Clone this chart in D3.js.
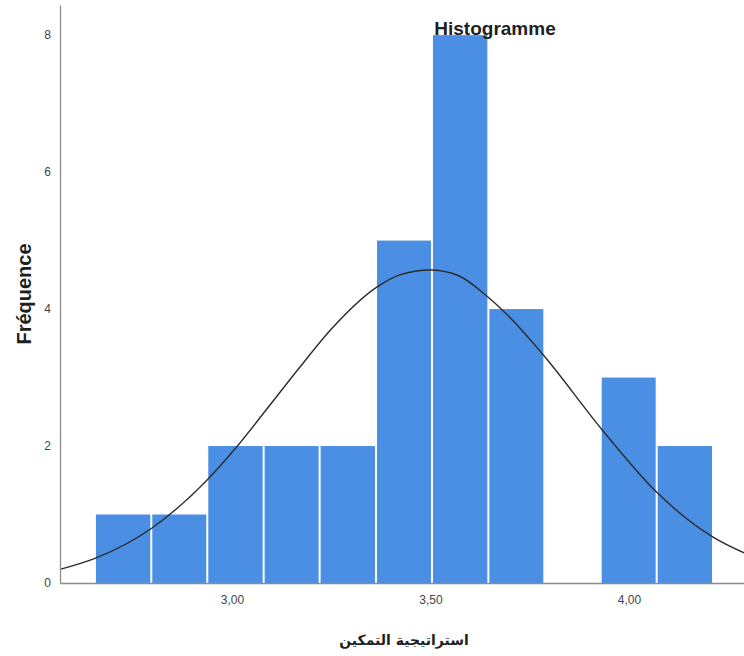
<!DOCTYPE html>
<html>
<head>
<meta charset="utf-8">
<script src="https://cdn.jsdelivr.net/npm/d3@7"></script>
<style>
  body { margin: 0; background: #fff; }
  text { font-family: "Liberation Sans", Arial, sans-serif; }
</style>
</head>
<body>
<div class="histo_Container"></div>
<script>
// bin edges + counts (11 bins)
const binEdges = [2.655, 2.797, 2.938, 3.080, 3.221, 3.363, 3.504, 3.646, 3.787, 3.929, 4.070, 4.212];
const counts = [1, 1, 2, 2, 2, 5, 8, 4, 0, 3, 2];

// fitted normal curve
const curveX = [2.567, 2.655, 2.798, 2.940, 3.008, 3.088, 3.171, 3.254, 3.365, 3.423, 3.499, 3.570, 3.642, 3.693, 3.783, 3.935, 4.071, 4.212, 4.290];
const curveY = [0.20, 0.36, 0.80, 1.52, 1.96, 2.54, 3.15, 3.73, 4.32, 4.50, 4.57, 4.49, 4.19, 3.92, 3.34, 2.22, 1.32, 0.67, 0.44];

const xTicks = [3.0, 3.5, 4.0];
const yTicks = [0, 2, 4, 6, 8];

const titleText = 'Histogramme';
const xLabel = 'استراتيجية التمكين';
const yLabel = 'Fréquence';

const W = 744, H = 656;
const margin = ({top: 5, bottom: 73, left: 60, right: 0});

const svg = d3.select('.histo_Container')
  .append('svg')
  .attr('width', W)
  .attr('height', H);

const x = d3.scaleLinear()
  .domain([2.567, 4.290])
  .range([margin.left, W - margin.right]);

const y = d3.scaleLinear()
  .domain([0, 8.44])
  .range([H - margin.bottom, margin.top]);

const bins = counts.map((c, i) => ({x0: binEdges[i], x1: binEdges[i + 1], n: c}));

// bars
svg.append('g')
  .selectAll('rect')
  .data(bins.filter(d => d.n > 0))
  .enter()
  .append('rect')
  .attr('x', d => x(d.x0) + 1)
  .attr('y', d => y(d.n))
  .attr('width', d => x(d.x1) - x(d.x0) - 2)
  .attr('height', d => y(0) - y(d.n))
  .attr('fill', '#4a8fe3');

// normal curve
const line = d3.line()
  .x(d => x(d[0]))
  .y(d => y(d[1]))
  .curve(d3.curveMonotoneX);

svg.append('path')
  .datum(curveX.map((v, i) => [v, curveY[i]]))
  .attr('fill', 'none')
  .attr('stroke', '#2b2b2b')
  .attr('stroke-width', 1.4)
  .attr('d', line);

// axes - no tick marks, gray lines
const xAxis = d3.axisBottom(x)
  .tickValues(xTicks)
  .tickSize(0)
  .tickPadding(12)
  .tickFormat(d => d3.format('.2f')(d).replace('.', ','));

const yAxis = d3.axisLeft(y)
  .tickValues(yTicks)
  .tickSize(0)
  .tickPadding(9);

const gx = svg.append('g')
  .attr('class', 'x-axis')
  .attr('transform', `translate(0, ${y(0)})`)
  .call(xAxis);

const gy = svg.append('g')
  .attr('class', 'y-axis')
  .attr('transform', `translate(${margin.left}, 0)`)
  .call(yAxis);

[gx, gy].forEach(g => {
  g.select('.domain').attr('stroke', '#8c8c8c').attr('stroke-width', 1.3);
  g.selectAll('text')
    .attr('fill', '#444')
    .style('font-size', '12px')
    .style('font-family', '"Liberation Sans", Arial, sans-serif');
});

// title
svg.append('text')
  .attr('x', 495)
  .attr('y', 35)
  .attr('text-anchor', 'middle')
  .attr('fill', '#1f1f1f')
  .style('font-size', '19px')
  .style('font-weight', 'bold')
  .text(titleText);

// axis labels
svg.append('text')
  .attr('transform', 'translate(31, 294) rotate(-90)')
  .attr('text-anchor', 'middle')
  .attr('fill', '#1f1f1f')
  .style('font-size', '20px')
  .style('font-weight', 'bold')
  .text(yLabel);

svg.append('text')
  .attr('x', 404)
  .attr('y', 645)
  .attr('text-anchor', 'middle')
  .attr('fill', '#1f1f1f')
  .style('font-size', '14px')
  .style('font-weight', 'bold')
  .style('font-family', '"DejaVu Sans", sans-serif')
  .text(xLabel);
</script>
</body>
</html>
